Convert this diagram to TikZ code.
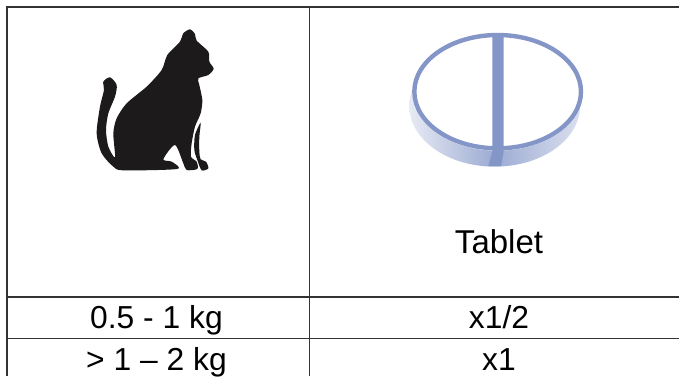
\documentclass[tikz,border=0pt]{standalone}
\usepackage{fontspec}
\setmainfont{Liberation Sans}
\definecolor{rule}{HTML}{333333}
\definecolor{pill}{HTML}{8496C8}
\definecolor{ink}{HTML}{1C1A1B}
\tikzset{
  cellline/.style={draw=rule,line width=1.6pt},
  celltext/.style={font=\fontsize{31.8}{33}\selectfont,text=black,inner sep=0pt,anchor=base},
}
\begin{document}
\begin{tikzpicture}[x=1pt,y=-1pt]
\useasboundingbox (0,0) rectangle (679,376);
\clip (0,0) rectangle (679,376);
\fill[white] (0,0) rectangle (679,376);
% table rules
\draw[cellline] (6.2,7) -- (679,7);
\draw[cellline] (7,297) -- (679,297);
\draw[cellline] (7,338.5) -- (679,338.5);
\draw[cellline] (7,7) -- (7,376);
\draw[cellline] (309.3,7) -- (309.3,376);
% cat
\begin{scope}[shift={(80,20)},x=0.3333pt,y=-0.3333pt]
\fill[ink] plot[smooth cycle,tension=0.45] coordinates {
 (330,28) (345,42) (350,62) (385,95) (388,125) (401,146) (385,165) (355,175)
 (358,195) (367,240) (362,280) (345,320) (335,370) (333,410) (350,425) (352,447)
 (320,450) (310,430) (285,375) (250,418) (275,425) (291,447) (130,451) (100,440)
 (65,400) (50,340) (60,260) (72,210) (70,185) (90,172) (110,195) (105,230)
 (85,280) (78,330) (85,380) (105,412) (100,340) (110,295) (140,250) (200,200)
 (245,150) (262,105) (300,65) (310,40)};
\fill[ink] plot[smooth cycle,tension=0.45] coordinates {
 (362,308) (358,350) (358,395) (362,418) (378,425) (385,445) (365,451) (352,420) (343,390) (345,345)};
\end{scope}
% tablet
\begin{scope}[shift={(400,20)},x=0.3333pt,y=-0.3333pt]
\shade[left color=pill!20,right color=pill!30,middle color=pill!80] (284,258) ellipse[x radius=256,y radius=182];
\fill[white] (293,215) ellipse[x radius=257,y radius=177];
\draw[pill,line width=4.4pt] (293,215) ellipse[x radius=250,y radius=170];
\fill[pill] (277,42) -- (311,42) -- (311,395) -- (303,438) -- (265,438) -- (277,395) -- cycle;
\end{scope}
% texts
\node[celltext,font=\fontsize{33}{34}\selectfont] (tablet) at (499,253) {Tablet};
\node[celltext] (w1) at (156.5,328.5) {0.5 - 1 kg};
\node[celltext] (d1) at (499,328.5) {x1/2};
\node[celltext] (w2) at (156.5,370) {> 1 – 2 kg};
\node[celltext] (d2) at (499,370) {x1};
\end{tikzpicture}
\end{document}
